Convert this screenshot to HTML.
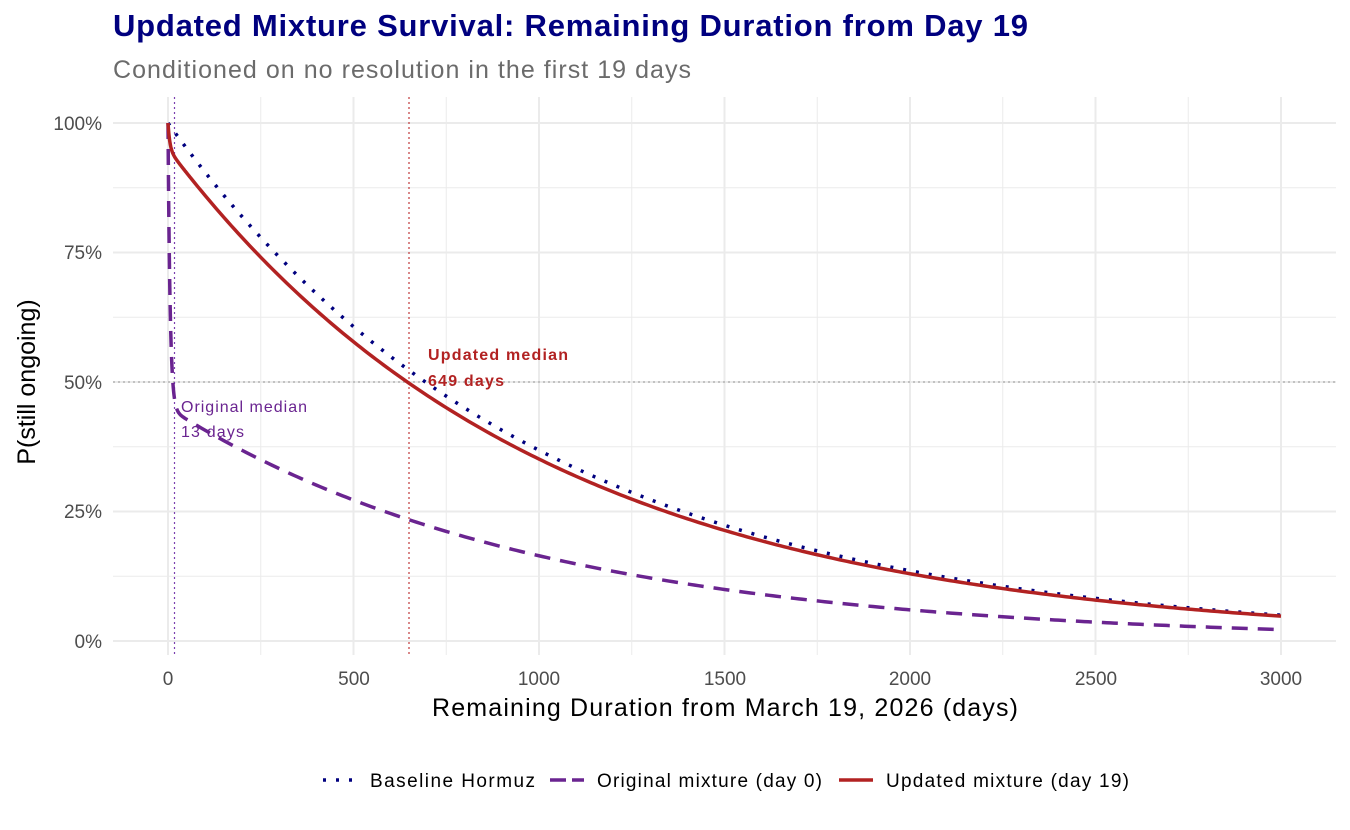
<!DOCTYPE html>
<html><head><meta charset="utf-8"><style>
body{margin:0;background:#fff;font-family:"Liberation Sans",sans-serif;}
</style></head><body>
<svg id="s" width="1350" height="825" xmlns="http://www.w3.org/2000/svg" font-family="Liberation Sans, sans-serif">
<rect width="1350" height="825" fill="#fff"/>
<g id="grid"></g>
<line x1="113" y1="382" x2="1336" y2="382" stroke="#aaa" stroke-width="1.2" stroke-dasharray="2,3"/>
<line x1="174.5" y1="97" x2="174.5" y2="655" stroke="#7b3fb0" stroke-width="1.2" stroke-dasharray="2,3"/>
<line x1="409" y1="97" x2="409" y2="655" stroke="#c0393b" stroke-width="1.2" stroke-dasharray="2,3"/>
<path id="pb" fill="none" stroke="#00007f" stroke-width="3.5" stroke-dasharray="3,10"/>
<path id="po" fill="none" stroke="#6a2490" stroke-width="3.5" stroke-dasharray="16,10"/>
<path id="pu" fill="none" stroke="#b22222" stroke-width="3.5"/>
<text x="428" y="360" font-size="16" font-weight="bold" fill="#b22222" textLength="140">Updated median</text>
<text x="428" y="386" font-size="16" font-weight="bold" fill="#b22222" textLength="76">649 days</text>
<text x="181" y="412" font-size="16" fill="#6a2490" textLength="126">Original median</text>
<text x="181" y="437" font-size="16" fill="#6a2490" textLength="63">13 days</text>
<g font-size="19" fill="#4d4d4d" text-anchor="end">
<text x="102" y="130">100%</text><text x="102" y="259">75%</text><text x="102" y="389">50%</text><text x="102" y="518">25%</text><text x="102" y="648">0%</text>
</g>
<g font-size="19" fill="#4d4d4d" text-anchor="middle">
<text x="168" y="685">0</text><text x="354" y="685">500</text><text x="539" y="685">1000</text><text x="725" y="685">1500</text><text x="910" y="685">2000</text><text x="1096" y="685">2500</text><text x="1281" y="685">3000</text>
</g>
<text x="432" y="716" font-size="25" fill="#000" textLength="586">Remaining Duration from March 19, 2026 (days)</text>
<text transform="translate(35,382) rotate(-90)" font-size="25" text-anchor="middle" fill="#000">P(still ongoing)</text>
<text x="113" y="36" font-size="31" font-weight="bold" fill="#00007f" textLength="915">Updated Mixture Survival: Remaining Duration from Day 19</text>
<text x="113" y="78" font-size="25" fill="#6b6b6b" textLength="578">Conditioned on no resolution in the first 19 days</text>
<line x1="323" y1="780" x2="357" y2="780" stroke="#00007f" stroke-width="3.5" stroke-dasharray="3,10"/>
<text x="370" y="787" font-size="19" textLength="165">Baseline Hormuz</text>
<line x1="550" y1="780" x2="584" y2="780" stroke="#6a2490" stroke-width="3.5" stroke-dasharray="16,6"/>
<text x="597" y="787" font-size="19" textLength="225">Original mixture (day 0)</text>
<line x1="839" y1="780" x2="873" y2="780" stroke="#b22222" stroke-width="3.5"/>
<text x="886" y="787" font-size="19" textLength="243">Updated mixture (day 19)</text>
</svg>
<script>
var X=t=>168+t*1113/3000, Y=p=>641-p*518;
var g='';
for(var i=0;i<=12;i++){var x=X(i*250);g+='<line x1="'+x+'" y1="97" x2="'+x+'" y2="655" stroke="#ebebeb" stroke-width="'+(i%2?1:2)+'"/>';}
for(var i=-1;i<=8;i++){var y=Y(i*0.125);if(y<97||y>655)continue;g+='<line x1="113" y1="'+y+'" x2="1336" y2="'+y+'" stroke="#ebebeb" stroke-width="'+(i%2?1:2)+'"/>';}
document.getElementById('grid').innerHTML=g;
function path(f){var d='';var ts=[];for(var t=0;t<60;t+=0.5)ts.push(t);for(var t=60;t<=3000;t+=10)ts.push(t);
ts.forEach((t,i)=>{d+=(i?'L':'M')+X(t).toFixed(2)+','+Y(f(t)).toFixed(2);});return d;}
document.getElementById('pb').setAttribute('d',path(t=>Math.exp(-t/1001)));
document.getElementById('pu').setAttribute('d',path(t=>0.05*Math.exp(-t/5)+0.95*Math.exp(-t/1005)));
document.getElementById('po').setAttribute('d',path(t=>0.55*Math.exp(-t/5.7)+0.45*Math.exp(-t/994)));
</script>
</body></html>
